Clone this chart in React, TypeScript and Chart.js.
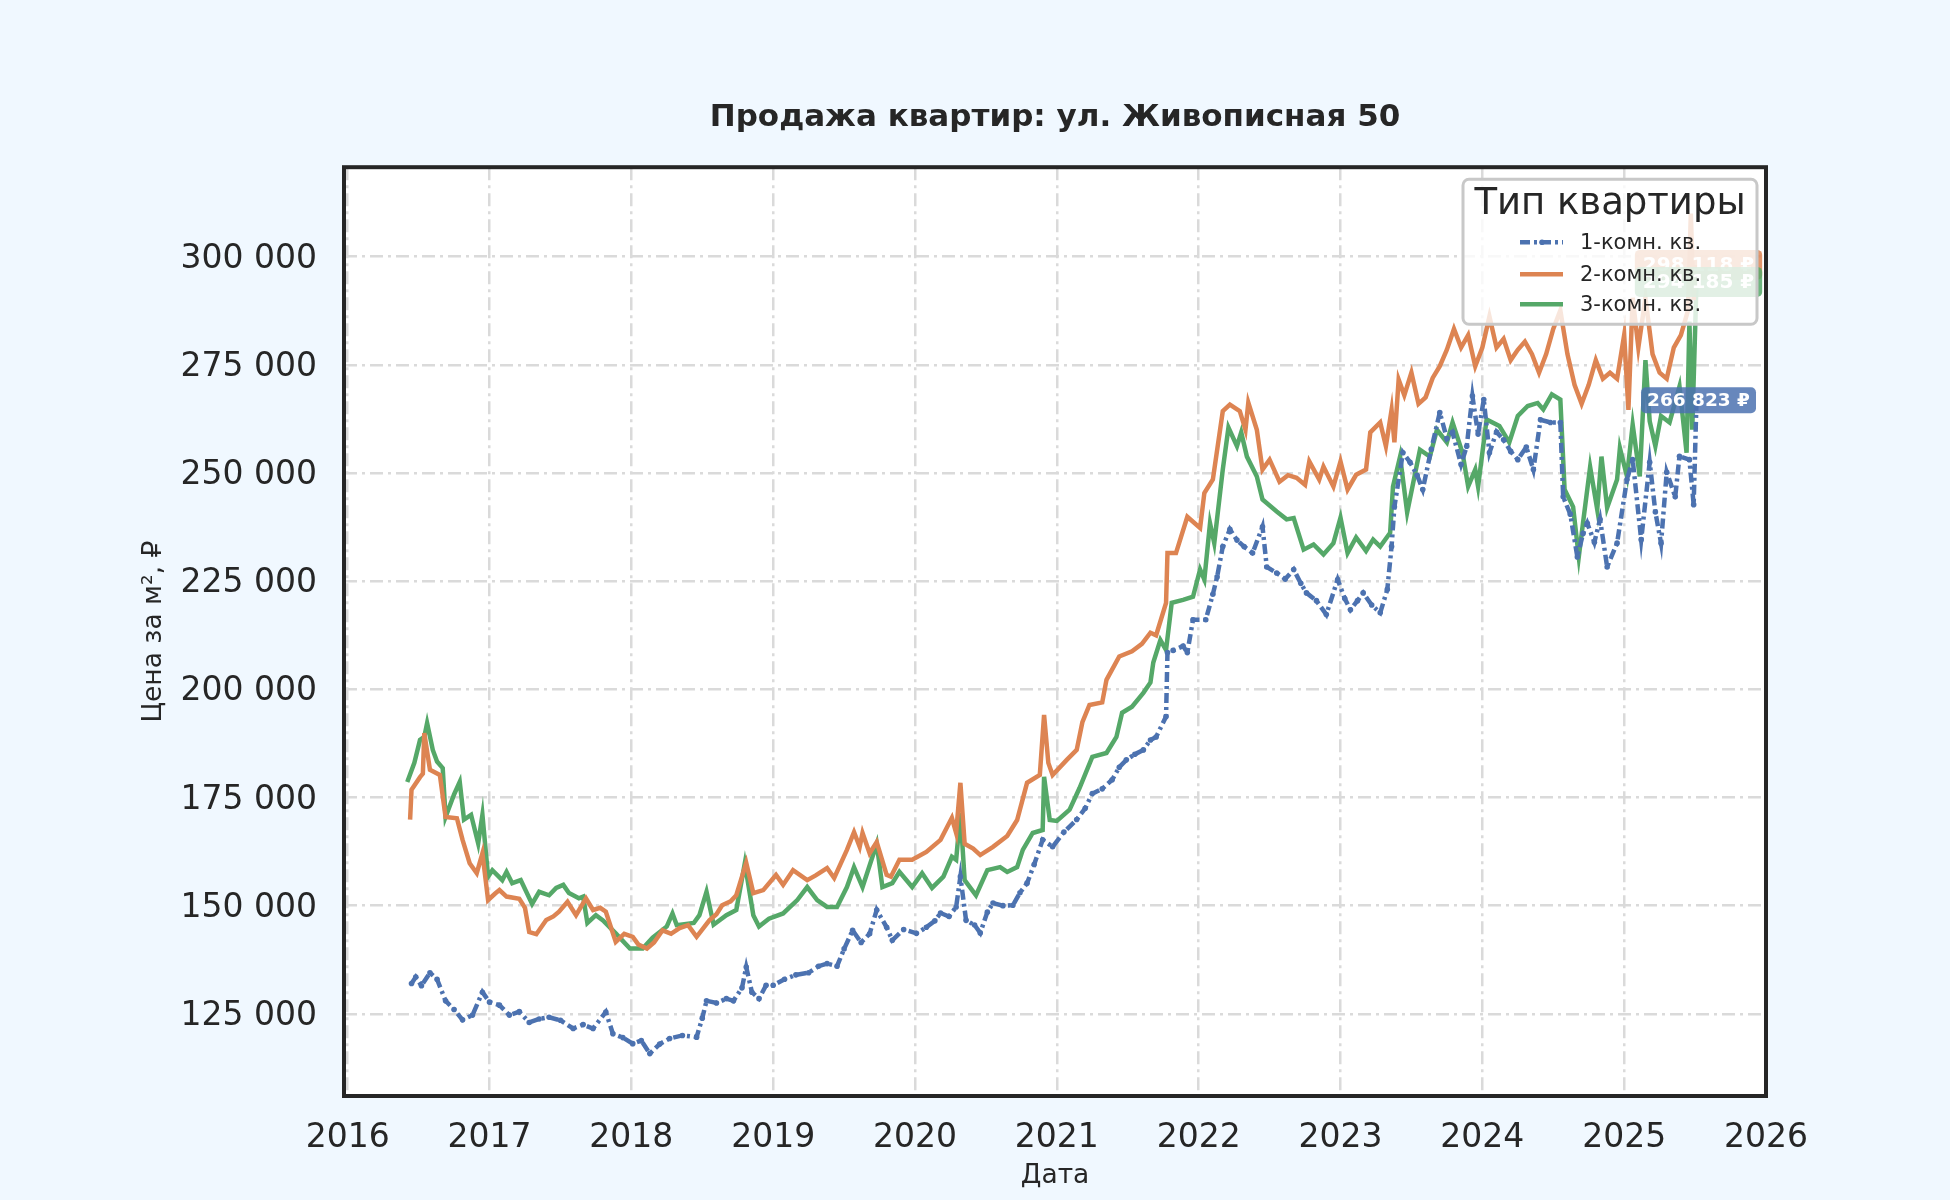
import { useEffect, useRef } from "react"
import { Chart, registerables } from "chart.js"

Chart.register(...registerables)

const FONT = "'DejaVu Sans', sans-serif"
const TEXT = "#262626"

const chartTitle = "Продажа квартир: ул. Живописная 50"
const legendTitle = "Тип квартиры"
const seriesNames = ["1-комн. кв.", "2-комн. кв.", "3-комн. кв."]
const seriesColors = ["#4C72B0", "#DD8452", "#55A868"]
const priceTicks = [125000, 150000, 175000, 200000, 225000, 250000, 275000, 300000]

// 1-комн. кв.
const oneRoomDates = [
  2016.45, 2016.48, 2016.52, 2016.58, 2016.63, 2016.69, 2016.75, 2016.81, 2016.88, 2016.95,
  2017.0, 2017.07, 2017.14, 2017.21, 2017.28, 2017.35, 2017.42, 2017.5, 2017.59, 2017.66,
  2017.73, 2017.82, 2017.87, 2017.94, 2018.01, 2018.07, 2018.13, 2018.2, 2018.27, 2018.36,
  2018.46, 2018.5, 2018.53, 2018.6, 2018.67, 2018.72, 2018.78, 2018.81, 2018.85, 2018.9,
  2018.95, 2019.0, 2019.08, 2019.16, 2019.25, 2019.32, 2019.38, 2019.45, 2019.5, 2019.56,
  2019.62, 2019.68, 2019.73, 2019.8, 2019.84, 2019.92, 2020.01, 2020.08, 2020.14, 2020.18,
  2020.24, 2020.29, 2020.32, 2020.36, 2020.42, 2020.46, 2020.51, 2020.55, 2020.62, 2020.69,
  2020.74, 2020.79, 2020.84, 2020.9, 2020.97, 2021.05, 2021.14, 2021.2, 2021.25, 2021.32,
  2021.39, 2021.44, 2021.49, 2021.55, 2021.61, 2021.66, 2021.7, 2021.77, 2021.78, 2021.82,
  2021.89, 2021.92, 2021.96, 2022.05, 2022.1, 2022.13, 2022.17, 2022.22, 2022.27, 2022.32,
  2022.38, 2022.45, 2022.48, 2022.55, 2022.61, 2022.67, 2022.72, 2022.76, 2022.83, 2022.9,
  2022.98, 2023.03, 2023.07, 2023.12, 2023.16, 2023.22, 2023.28, 2023.33, 2023.36, 2023.38,
  2023.44, 2023.49, 2023.54, 2023.58, 2023.64, 2023.7, 2023.75, 2023.79, 2023.85, 2023.89,
  2023.93, 2023.97, 2024.01, 2024.05, 2024.1, 2024.15, 2024.2, 2024.25, 2024.31, 2024.36,
  2024.41, 2024.48, 2024.55, 2024.57, 2024.62, 2024.67, 2024.71, 2024.74, 2024.79, 2024.83,
  2024.88, 2024.95, 2025.02, 2025.06, 2025.12, 2025.18, 2025.22, 2025.26, 2025.3, 2025.36,
  2025.39, 2025.46, 2025.49, 2025.51,
]
const oneRoomPrices = [
  132000, 133500, 131500, 134500, 133000, 128000, 126000, 123600, 124700, 130000,
  127700, 127000, 124700, 125500, 123000, 123800, 124200, 123500, 121600, 122500,
  121600, 125400, 120400, 119500, 118100, 118800, 115800, 118000, 119300, 120000,
  119600, 124000, 128000, 127500, 128500, 128000, 131000, 135800, 130000, 128500,
  131600, 131600, 133000, 134000, 134500, 136000, 136600, 136000, 140000, 144300,
  141500, 143500, 149000, 145000, 142000, 144500, 143600, 145000, 146500, 148300,
  147500, 149700, 156700, 146600, 145500, 143700, 148500, 150600, 150000, 150100,
  153000, 155200, 159500, 165200, 163600, 167000, 169900, 172500, 175900, 177000,
  179100, 182000, 183700, 185000, 186000, 188300, 189000, 193700, 208500, 209000,
  210000, 208500, 216100, 216100, 222000, 226000, 233000, 237000, 234500, 233000,
  231500, 237600, 228300, 226900, 225500, 227700, 224500, 222300, 220500, 217300,
  225400, 221000, 218400, 220500, 222300, 219500, 217700, 223100, 233000, 242200,
  254700, 252500, 249500, 246200, 255500, 264000, 258000, 259400, 252000, 256200,
  267800, 259000, 267000, 254700, 259500, 257700, 255000, 253100, 256000, 250800,
  262300, 261700, 261700, 244500, 240500, 230600, 236000, 238400, 234000, 239300,
  228300, 233800, 248500, 253100, 234600, 252500, 241000, 233800, 250200, 244500,
  253900, 253100, 242700, 266823,
]

// 2-комн. кв.
const twoRoomDates = [
  2016.44, 2016.45, 2016.51, 2016.53, 2016.54, 2016.58, 2016.65, 2016.69, 2016.77, 2016.81,
  2016.86, 2016.91, 2016.95, 2016.99, 2017.04, 2017.07, 2017.12, 2017.21, 2017.25, 2017.28,
  2017.33, 2017.4, 2017.45, 2017.49, 2017.55, 2017.61, 2017.68, 2017.73, 2017.78, 2017.82,
  2017.89, 2017.95, 2018.01, 2018.05, 2018.11, 2018.16, 2018.22, 2018.28, 2018.34, 2018.4,
  2018.46, 2018.55, 2018.6, 2018.64, 2018.7, 2018.74, 2018.81, 2018.86, 2018.93, 2019.02,
  2019.07, 2019.14, 2019.24, 2019.3, 2019.38, 2019.43, 2019.52, 2019.57, 2019.61, 2019.63,
  2019.68, 2019.73, 2019.8, 2019.83, 2019.89, 2019.98, 2020.08, 2020.18, 2020.26, 2020.29,
  2020.32, 2020.35, 2020.41, 2020.46, 2020.55, 2020.65, 2020.72, 2020.79, 2020.88, 2020.91,
  2020.94, 2020.97, 2021.07, 2021.14, 2021.18, 2021.23, 2021.32, 2021.35, 2021.44, 2021.53,
  2021.6, 2021.66, 2021.7, 2021.77, 2021.78, 2021.84, 2021.92, 2022.01, 2022.04, 2022.1,
  2022.17, 2022.22, 2022.29, 2022.33, 2022.35, 2022.41, 2022.45, 2022.5, 2022.57, 2022.63,
  2022.69, 2022.75, 2022.78, 2022.85, 2022.88, 2022.95, 2023.0, 2023.05, 2023.11, 2023.18,
  2023.21, 2023.28, 2023.32, 2023.36, 2023.38, 2023.41, 2023.45, 2023.5, 2023.55, 2023.6,
  2023.65, 2023.7, 2023.75, 2023.8, 2023.85, 2023.9, 2023.95, 2024.0, 2024.05, 2024.1,
  2024.15, 2024.2, 2024.25, 2024.3, 2024.35, 2024.4, 2024.45, 2024.5, 2024.55, 2024.6,
  2024.65, 2024.7, 2024.75, 2024.8, 2024.85, 2024.9, 2024.95, 2025.0, 2025.03, 2025.06,
  2025.1, 2025.15, 2025.2, 2025.25, 2025.3, 2025.35, 2025.4, 2025.45, 2025.47, 2025.49,
  2025.51,
]
const twoRoomPrices = [
  169900, 176800, 179700, 180500, 189900, 181400, 180200, 170500, 170200, 165200,
  159800, 157500, 162100, 151300, 152800, 153600, 152100, 151600, 149500, 143900,
  143400, 146700, 147500, 148600, 150900, 147800, 151700, 149000, 149500, 148600,
  141600, 143500, 142800, 141000, 140100, 141500, 144300, 143500, 144800, 145500,
  142800, 146600, 148000, 150100, 151000, 152400, 159900, 152900, 153600, 157100,
  154800, 158200, 155900, 157000, 158700, 156400, 162900, 167000, 163600, 166800,
  162100, 164700, 157100, 156700, 160600, 160600, 162400, 165200, 170300, 166800,
  178400, 164300, 163200, 161700, 163600, 166100, 169800, 178400, 180200, 194100,
  183000, 180200, 183700, 186000, 192400, 196400, 197000, 202200, 207600, 208800,
  210500, 213100, 212500, 220000, 231500, 231500, 239900, 237300, 245400, 248500,
  264300, 265800, 264300, 260000, 266300, 260000, 250800, 253100, 248000, 249500,
  248900, 247300, 252700, 248500, 251500, 246900, 252700, 246200, 249600, 250800,
  259400, 261700, 256200, 264600, 257100, 271600, 268000, 273200, 266000, 267500,
  272000, 274700, 278500, 283300, 279000, 281900, 274700, 279000, 286200, 279000,
  281000, 276100, 278500, 280400, 277500, 273200, 277500, 283300, 287600, 277500,
  270400, 266000, 270400, 276100, 271800, 273200, 271800, 281900, 264600, 290500,
  279000, 290500, 277500, 273200, 271800, 279000, 281900, 287600, 310000, 290000,
  298118,
]

// 3-комн. кв.
const threeRoomDates = [
  2016.42, 2016.47, 2016.51, 2016.54, 2016.56, 2016.6, 2016.63, 2016.67, 2016.69, 2016.75,
  2016.79, 2016.82, 2016.87, 2016.92, 2016.95, 2016.99, 2017.02, 2017.09, 2017.12, 2017.16,
  2017.22, 2017.3, 2017.35, 2017.42, 2017.47, 2017.52, 2017.56, 2017.63, 2017.66, 2017.69,
  2017.75, 2017.8, 2017.89, 2017.99, 2018.08, 2018.15, 2018.25, 2018.29, 2018.32, 2018.44,
  2018.48, 2018.53, 2018.58, 2018.67, 2018.74, 2018.8, 2018.86, 2018.9, 2018.97, 2019.07,
  2019.17, 2019.24, 2019.31, 2019.38, 2019.45, 2019.52, 2019.57, 2019.63, 2019.73, 2019.77,
  2019.84, 2019.89, 2019.98, 2020.05, 2020.12, 2020.2, 2020.26, 2020.29, 2020.32, 2020.35,
  2020.43, 2020.51, 2020.6, 2020.65, 2020.72, 2020.76, 2020.83, 2020.9, 2020.91, 2020.95,
  2021.0, 2021.09, 2021.16, 2021.25, 2021.35, 2021.42, 2021.46, 2021.53, 2021.61, 2021.66,
  2021.68, 2021.73, 2021.77, 2021.81, 2021.89, 2021.96, 2022.01, 2022.04, 2022.08, 2022.11,
  2022.17, 2022.21, 2022.27, 2022.3, 2022.34, 2022.41, 2022.45, 2022.55, 2022.62, 2022.67,
  2022.74, 2022.81, 2022.88, 2022.95, 2023.0, 2023.05, 2023.11, 2023.18, 2023.23, 2023.28,
  2023.35, 2023.37, 2023.42, 2023.47, 2023.56, 2023.63, 2023.68, 2023.75, 2023.79, 2023.86,
  2023.9, 2023.95, 2023.97, 2024.03, 2024.12, 2024.19, 2024.25, 2024.32, 2024.39, 2024.43,
  2024.49, 2024.55, 2024.58, 2024.64, 2024.68, 2024.71, 2024.76, 2024.81, 2024.84, 2024.88,
  2024.95, 2024.97, 2025.02, 2025.06, 2025.11, 2025.15, 2025.18, 2025.22, 2025.26, 2025.32,
  2025.39, 2025.44, 2025.46, 2025.48, 2025.51,
]
const threeRoomPrices = [
  178600, 183000, 188300, 189000, 192200, 186000, 183300, 181800, 170500, 175700,
  178600, 169900, 171000, 164400, 171000, 156700, 158200, 155900, 157800, 155200,
  155900, 150400, 153200, 152400, 154100, 154800, 152900, 151700, 152100, 146000,
  147800, 146600, 143600, 140100, 140100, 142600, 145200, 148200, 145500, 146000,
  147800, 153200, 145600, 147800, 149000, 159800, 147800, 145200, 147000, 148200,
  151300, 154300, 151300, 149700, 149700, 154300, 158900, 154300, 164300, 154300,
  155200, 157800, 154300, 157500, 154100, 156700, 161300, 160600, 171400, 155900,
  152400, 158200, 158900, 157800, 158900, 162900, 166800, 167500, 179800, 169800,
  169600, 172200, 177200, 184400, 185300, 189000, 194600, 196000, 199200, 201600,
  206200, 211400, 209100, 220000, 220700, 221400, 227700, 225400, 238400, 233800,
  250800, 260500, 256200, 259400, 253800, 249200, 243900, 241100, 239300, 239600,
  232300, 233500, 231200, 233800, 239700, 231500, 235100, 232000, 234600, 233000,
  236200, 246900, 253800, 240900, 255400, 253800, 260000, 257100, 261700, 254700,
  246900, 250800, 246900, 262400, 260900, 257100, 263200, 265500, 266200, 264700,
  268200, 267000, 246200, 242200, 230600, 238500, 251400, 241600, 253800, 242000,
  248500, 255800, 249200, 261200, 249200, 276100, 262000, 256200, 263200, 261700,
  270000, 254700, 285000, 260000, 294185,
]

const seriesDates = [oneRoomDates, twoRoomDates, threeRoomDates]
const seriesPrices = [oneRoomPrices, twoRoomPrices, threeRoomPrices]

const fmt = (v: number) => Math.round(v).toString().replace(/\B(?=(\d{3})+(?!\d))/g, " ")

function withAlpha(hex: string, a: number) {
  const n = parseInt(hex.slice(1), 16)
  return `rgba(${(n >> 16) & 255}, ${(n >> 8) & 255}, ${n & 255}, ${a})`
}

function roundRect(ctx: CanvasRenderingContext2D, x: number, y: number, w: number, h: number, r: number) {
  ctx.beginPath()
  ctx.moveTo(x + r, y)
  ctx.arcTo(x + w, y, x + w, y + h, r)
  ctx.arcTo(x + w, y + h, x, y + h, r)
  ctx.arcTo(x, y + h, x, y, r)
  ctx.arcTo(x, y, x + w, y, r)
  ctx.closePath()
}

// фон страницы и белая область графика
const backgroundPlugin = {
  id: "background",
  beforeDraw(chart: any) {
    const { ctx, chartArea: a } = chart
    ctx.save()
    ctx.fillStyle = "#F0F8FF"
    ctx.fillRect(0, 0, chart.width, chart.height)
    ctx.fillStyle = "#FFFFFF"
    ctx.fillRect(a.left, a.top, a.right - a.left, a.bottom - a.top)
    ctx.restore()
  },
}

// подписи последних значений
const lastValuePlugin = {
  id: "lastValue",
  afterDatasetsDraw(chart: any) {
    const ctx = chart.ctx
    chart.data.datasets.forEach((ds: any, i: number) => {
      const meta = chart.getDatasetMeta(i)
      const pt = meta.data[meta.data.length - 1]
      if (!pt) return
      const value = ds.data[ds.data.length - 1].y
      const big = i > 0
      const size = big ? 20 : 18.5
      const text = `${fmt(value)} ₽`
      ctx.save()
      ctx.font = `bold ${size}px ${FONT}`
      const w = ctx.measureText(text).width + (big ? 16 : 12)
      const h = big ? 30 : 26
      ctx.fillStyle = withAlpha(seriesColors[i], 0.85)
      roundRect(ctx, pt.x + 2 - w / 2, pt.y - h / 2, w, h, 5)
      ctx.fill()
      ctx.fillStyle = "#FFFFFF"
      ctx.textAlign = "center"
      ctx.textBaseline = "middle"
      ctx.fillText(text, pt.x + 2, pt.y + 1)
      ctx.restore()
    })
  },
}

// рамка и легенда
const framePlugin = {
  id: "frameLegend",
  afterDraw(chart: any) {
    const { ctx, chartArea: a } = chart
    ctx.save()

    const w = 294
    const h = 145
    const x = a.right - 9 - w
    const y = a.top + 12
    ctx.fillStyle = "rgba(255, 255, 255, 0.8)"
    roundRect(ctx, x, y, w, h, 6)
    ctx.fill()
    ctx.strokeStyle = "#C8C8C8"
    ctx.lineWidth = 3
    ctx.stroke()

    ctx.fillStyle = TEXT
    ctx.textAlign = "center"
    ctx.textBaseline = "alphabetic"
    ctx.font = `37px ${FONT}`
    ctx.fillText(legendTitle, x + w / 2, y + 35)

    ctx.font = `21px ${FONT}`
    ctx.textAlign = "left"
    const rows = [70, 102, 132]
    seriesNames.forEach((name, i) => {
      const by = y + rows[i]
      const ly = by - 7
      ctx.strokeStyle = seriesColors[i]
      ctx.lineWidth = 4.5
      ctx.setLineDash(i === 0 ? [10, 4, 3, 4] : [])
      ctx.beginPath()
      ctx.moveTo(x + 57, ly)
      ctx.lineTo(x + 100, ly)
      ctx.stroke()
      ctx.setLineDash([])
      if (i === 0) {
        ctx.fillStyle = seriesColors[i]
        ctx.beginPath()
        ctx.arc(x + 79, ly, 2.8, 0, Math.PI * 2)
        ctx.fill()
      }
      ctx.fillStyle = TEXT
      ctx.fillText(name, x + 117, by)
    })

    ctx.strokeStyle = TEXT
    ctx.lineWidth = 4
    ctx.strokeRect(a.left, a.top, a.right - a.left, a.bottom - a.top)
    ctx.restore()
  },
}

export default function App() {
  const chartRef = useRef<HTMLCanvasElement>(null)
  const chartInstance = useRef<Chart | null>(null)

  useEffect(() => {
    document.body.style.margin = "0"
    if (!chartRef.current) return
    if (chartInstance.current) chartInstance.current.destroy()
    const ctx = chartRef.current.getContext("2d")
    if (!ctx) return

    Chart.defaults.font.family = FONT
    Chart.defaults.color = TEXT

    const datasets = seriesNames.map((name, i) => ({
      label: name,
      data: seriesDates[i].map((d, j) => ({ x: d, y: seriesPrices[i][j] })),
      borderColor: seriesColors[i],
      backgroundColor: seriesColors[i],
      borderWidth: 4.5,
      borderDash: i === 0 ? [10, 4, 3, 4] : [],
      pointRadius: i === 0 ? 2.8 : 0,
      pointBorderWidth: 0,
      pointBackgroundColor: seriesColors[i],
      tension: 0,
    }))

    chartInstance.current = new Chart(ctx, {
      type: "line",
      data: { datasets },
      plugins: [backgroundPlugin, lastValuePlugin, framePlugin],
      options: {
        animation: false,
        responsive: true,
        maintainAspectRatio: false,
        events: [],
        layout: { padding: { left: 0, right: 184, top: 0, bottom: 0 } },
        plugins: {
          legend: { display: false },
          tooltip: { enabled: false },
          title: {
            display: true,
            text: chartTitle,
            fullSize: false,
            color: TEXT,
            font: { size: 31, weight: "bold", family: FONT },
            padding: { top: 99.5, bottom: 30.5 },
          },
        },
        scales: {
          x: {
            type: "linear",
            min: 2015.974,
            max: 2026,
            afterFit: (scale: any) => {
              scale.height = 104
            },
            ticks: {
              stepSize: 1,
              includeBounds: false,
              maxRotation: 0,
              autoSkip: false,
              padding: 22.5,
              color: TEXT,
              font: { size: 33, family: FONT },
              callback: (v: any) => String(v),
            },
            grid: { color: "#DADADA", lineWidth: 2.5, drawTicks: false },
            border: { display: false, dash: [13, 5, 3, 5] },
            title: {
              display: true,
              text: "Дата",
              color: TEXT,
              font: { size: 26.5, family: FONT },
              padding: { top: 0, bottom: 7.5 },
            },
          },
          y: {
            type: "linear",
            min: 106000,
            max: 320700,
            afterFit: (scale: any) => {
              scale.width = 344
            },
            afterBuildTicks: (scale: any) => {
              scale.ticks = priceTicks.map((v) => ({ value: v }))
            },
            ticks: {
              padding: 27,
              labelOffset: 2.5,
              color: TEXT,
              font: { size: 33, family: FONT },
              callback: (v: any) => fmt(Number(v)),
            },
            grid: { color: "#DADADA", lineWidth: 2.5, drawTicks: false },
            border: { display: false, dash: [13, 5, 3, 5] },
            title: {
              display: true,
              text: "Цена за м², ₽",
              color: TEXT,
              font: { size: 26.5, family: FONT },
              padding: { top: 138, bottom: 0 },
            },
          },
        },
      } as any,
    })

    return () => {
      if (chartInstance.current) {
        chartInstance.current.destroy()
        chartInstance.current = null
      }
    }
  }, [])

  return (
    <div style={{ width: 1950, height: 1200, background: "#F0F8FF", position: "relative" }}>
      <canvas ref={chartRef} />
    </div>
  )
}
